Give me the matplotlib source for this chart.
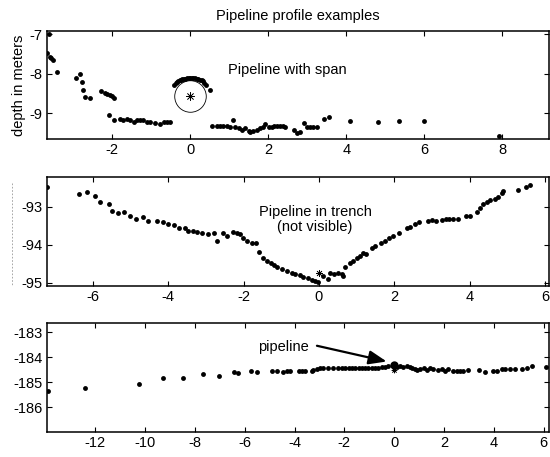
import matplotlib
matplotlib.use("Agg")
import matplotlib.pyplot as plt
from matplotlib.lines import Line2D

plt.rcParams['font.family'] = ['Liberation Sans', 'DejaVu Sans']
plt.rcParams['axes.unicode_minus'] = False

# ---- top panel: pipeline with span ----
top_x = [-3.63, -3.67, -3.6, -3.57, -3.52, -3.42, -2.92, -2.82, -2.78, -2.74, -2.69, -2.58,
         -2.29, -2.19, -2.12, -2.05, -2.0, -1.95, -2.07, -1.95,
         -1.79, -1.71, -1.62, -1.54, -1.45, -1.37, -1.28, -1.2, -1.11, -1.04, -0.9, -0.77, -0.68, -0.6, -0.51,
         -0.41, -0.37, -0.34, -0.3, -0.27, -0.24, -0.21, -0.16, -0.12, -0.08, -0.04, 0.0, 0.04, 0.08, 0.13,
         0.17, 0.21, 0.25, 0.30, 0.33, 0.36, 0.41, 0.50,
         0.56, 0.68, 0.77, 0.85, 0.94, 1.03, 1.09, 1.15, 1.24, 1.32, 1.41, 1.5, 1.54, 1.62, 1.71, 1.79,
         1.88, 1.92, 2.01, 2.09, 2.15, 2.22, 2.31, 2.39, 2.44, 2.65, 2.74, 2.82, 2.91, 2.99, 3.08, 3.16,
         3.25, 3.44, 3.55, 4.10, 4.81, 5.36, 6.0, 7.92]
top_y = [-7.0, -7.49, -7.57, -7.6, -7.66, -7.95, -8.10, -8.0, -8.21, -8.42, -8.59, -8.61,
         -8.44, -8.48, -8.52, -8.54, -8.58, -8.61, -9.05, -9.19,
         -9.15, -9.19, -9.15, -9.19, -9.22, -9.18, -9.19, -9.19, -9.22, -9.24, -9.26, -9.28, -9.24, -9.23, -9.23,
         -8.29, -8.25, -8.21, -8.18, -8.16, -8.15, -8.14, -8.13, -8.13, -8.12, -8.12, -8.12, -8.12, -8.12, -8.12,
         -8.13, -8.14, -8.15, -8.17, -8.2, -8.23, -8.29, -8.42,
         -9.32, -9.32, -9.32, -9.33, -9.33, -9.35, -9.19, -9.35, -9.39, -9.43, -9.39, -9.46, -9.47, -9.46, -9.43, -9.39,
         -9.35, -9.28, -9.35, -9.35, -9.32, -9.32, -9.32, -9.33, -9.35, -9.43, -9.51, -9.49, -9.26, -9.36, -9.36, -9.36,
         -9.35, -9.14, -9.11, -9.2, -9.23, -9.2, -9.2, -9.58]
top_pipe_x = [0.0]
top_pipe_y = [-8.57]

# ---- middle panel: pipeline in trench ----
mid_x = [-7.21, -6.37, -6.16, -5.94, -5.81, -5.57, -5.5, -5.32, -5.16, -5.0, -4.84, -4.66, -4.53, -4.29,
         -4.13, -4.0, -3.85, -3.71, -3.55, -3.47, -3.33, -3.23, -3.1, -2.94, -2.78, -2.69, -2.54, -2.43,
         -2.29, -2.17, -2.1, -2.02, -1.9, -1.77, -1.68, -1.59, -1.49, -1.39, -1.28, -1.19,
         -1.12, -0.99, -0.86, -0.72, -0.64, -0.5, -0.42, -0.28, -0.19, -0.11, -0.02, 0.11, 0.25, 0.29,
         0.41, 0.51, 0.6, 0.64, 0.69, 0.82, 0.91, 1.0, 1.09, 1.18, 1.26, 1.4, 1.49, 1.64, 1.75, 1.86,
         1.97, 2.12, 2.33, 2.41, 2.55, 2.66, 2.88, 2.99, 3.1, 3.25, 3.36, 3.46, 3.56, 3.68, 3.89, 4.0,
         4.18, 4.27, 4.36, 4.45, 4.54, 4.67, 4.74, 4.85, 4.89, 5.27, 5.48, 5.6]
mid_y = [-92.47, -92.66, -92.61, -92.71, -92.88, -92.93, -93.1, -93.15, -93.14, -93.24, -93.32, -93.27, -93.37, -93.37,
         -93.4, -93.45, -93.47, -93.54, -93.54, -93.63, -93.63, -93.67, -93.69, -93.72, -93.68, -93.89, -93.68, -93.76,
         -93.67, -93.68, -93.71, -93.82, -93.9, -93.96, -93.96, -94.19, -94.35, -94.42, -94.47, -94.53,
         -94.57, -94.64, -94.68, -94.73, -94.76, -94.79, -94.85, -94.88, -94.92, -94.94, -94.97, -94.82, -94.9, -94.75,
         -94.77, -94.73, -94.77, -94.81, -94.59, -94.47, -94.41, -94.35, -94.29, -94.22, -94.24, -94.09, -94.03, -93.96, -93.9, -93.81,
         -93.76, -93.68, -93.56, -93.52, -93.45, -93.4, -93.36, -93.34, -93.37, -93.33, -93.32, -93.32, -93.32, -93.32, -93.24, -93.23,
         -93.14, -93.02, -92.93, -92.88, -92.82, -92.79, -92.73, -92.64, -92.58, -92.55, -92.47, -92.42]
mid_pipe_x = [0.01]
mid_pipe_y = [-94.75]

# ---- bottom panel: pipeline on seabed ----
bot_x = [-13.92, -12.41, -10.24, -9.27, -8.46, -7.66, -7.03, -6.43, -6.29, -5.76, -5.49, -4.91,
         -4.71, -4.45, -4.31, -4.18, -3.84, -3.71, -3.57, -3.31, -3.24, -3.1, -2.97, -2.84, -2.64,
         -2.44, -2.24, -2.1, -1.97, -1.83, -1.7, -1.57, -1.43, -1.3, -1.16, -1.03, -0.9, -0.76, -0.63,
         -0.49, -0.36, -0.23, 0.11, 0.24, 0.37, 0.51, 0.64, 0.71, 0.84, 0.91, 1.04, 1.18, 1.31, 1.45,
         1.58, 1.78, 1.92, 2.05, 2.18, 2.38, 2.52, 2.65, 2.78, 2.98, 3.39, 3.65, 3.99, 4.12, 4.33, 4.46,
         4.66, 4.86, 5.13, 5.33, 5.53, 6.09]
bot_y = [-185.35, -185.23, -185.08, -184.85, -184.85, -184.69, -184.75, -184.61, -184.65, -184.56, -184.61, -184.56,
         -184.56, -184.61, -184.56, -184.56, -184.56, -184.56, -184.56, -184.55, -184.52, -184.48, -184.45, -184.45, -184.45,
         -184.43, -184.43, -184.43, -184.43, -184.43, -184.43, -184.43, -184.43, -184.43, -184.43, -184.43, -184.43, -184.45, -184.43,
         -184.39, -184.39, -184.36, -184.39, -184.36, -184.39, -184.36, -184.39, -184.43, -184.48, -184.52, -184.49, -184.45, -184.52, -184.45,
         -184.48, -184.52, -184.49, -184.55, -184.49, -184.55, -184.56, -184.55, -184.55, -184.52, -184.52, -184.61, -184.56, -184.56, -184.48, -184.48,
         -184.48, -184.48, -184.48, -184.43, -184.36, -184.39]
bot_pipe_x = [0.0]
bot_pipe_y = [-184.32]

fig = plt.figure(figsize=(5.5, 4.57), dpi=100)
fig.patch.set_facecolor('white')

L, W = 0.0855, 0.9127
ax1 = fig.add_axes([L, 0.6958, W, 0.2363])
ax2 = fig.add_axes([L, 0.3742, W, 0.2385])
ax3 = fig.add_axes([L, 0.0547, W, 0.2385])

fs = 10.5
dot = dict(linestyle='none', marker='o', markersize=3.5, color='black', markeredgewidth=0)

def style(ax, xlim, ylim, xticks, yticks):
    ax.set_xlim(*xlim)
    ax.set_ylim(*ylim)
    ax.set_xticks(xticks)
    ax.set_yticks(yticks)
    ax.tick_params(direction='in', top=True, right=True, length=3.5, width=0.8,
                   labelsize=fs, pad=3)
    for s in ax.spines.values():
        s.set_linewidth(1.1)

# top
ax1.plot(top_x, top_y, **dot)
ax1.plot(top_pipe_x, top_pipe_y, linestyle='none', marker='o', markersize=22.7,
         markerfacecolor='none', markeredgecolor='black', markeredgewidth=0.6)
ax1.plot(top_pipe_x, top_pipe_y, linestyle='none', marker=(8, 2, 0), markersize=6,
         color='black', markeredgewidth=0.5)
style(ax1, (-3.67, 9.2), (-9.66, -6.92), [-2, 0, 2, 4, 6, 8], [-9, -8, -7])
ax1.text(2.49, -7.91, 'Pipeline with span', ha='center', va='center', fontsize=fs)
ax1.set_ylabel('depth in meters', fontsize=fs, labelpad=2.5)
ax1.set_title('Pipeline profile examples', fontsize=fs, pad=8)

# middle
ax2.plot(mid_x, mid_y, **dot)
ax2.plot(mid_pipe_x, mid_pipe_y, linestyle='none', marker=(8, 2, 0), markersize=5,
         color='black', markeredgewidth=0.5)
style(ax2, (-7.21, 6.1), (-95.08, -92.21), [-6, -4, -2, 0, 2, 4, 6], [-95, -94, -93])
ax2.text(-0.1, -93.33, 'Pipeline in trench\n(not visible)', ha='center', va='center',
         fontsize=fs, linespacing=1.15)

# bottom
ax3.plot(bot_x, bot_y, **dot)
ax3.plot(bot_pipe_x, bot_pipe_y, linestyle='none', marker='o', markersize=6,
         color='black', markeredgewidth=0)
ax3.plot([0.0], [-184.5], linestyle='none', marker=(8, 2, 0), markersize=4,
         color='black', markeredgewidth=0.5)
style(ax3, (-13.94, 6.22), (-187.0, -182.64), list(range(-12, 7, 2)), [-186, -185, -184, -183])
ax3.annotate('', xy=(-0.3, -184.18), xytext=(-3.1, -183.55),
             arrowprops=dict(arrowstyle='-|>,head_length=0.9,head_width=0.35', color='black', lw=1.6,
                             mutation_scale=12, shrinkA=0, shrinkB=0))
ax3.text(-4.46, -183.6, 'pipeline', ha='center', va='center', fontsize=fs)

# faint clipped label artifact left of middle panel
fig.add_artist(Line2D([12/550, 12/550], [1-183/457, 1-285/457], transform=fig.transFigure,
                      color='#999999', lw=0.6, linestyle=(0, (2, 2))))

fig.savefig('out.png', dpi=100, facecolor='white')
